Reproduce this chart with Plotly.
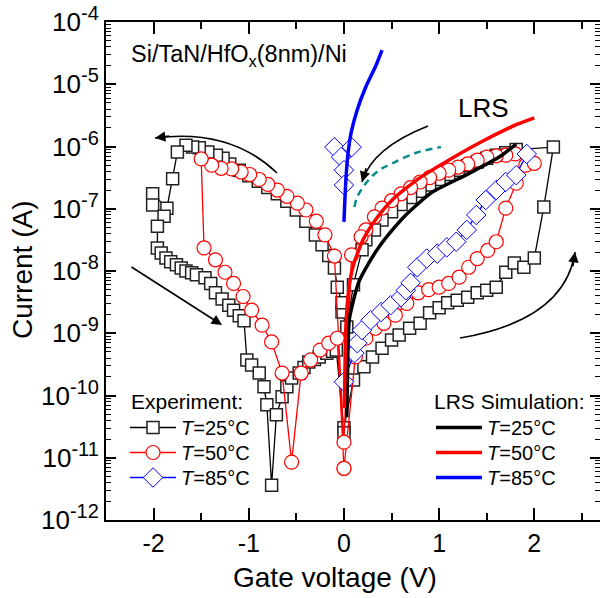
import numpy as np
import plotly.graph_objects as go

# ---------------- data : gate voltage (V) and log10(current / A) ----------------
# T = 25 C experiment (squares), sweep order 0 -> +2.2 -> 0 -> -2 -> 0
e25_up_V = [0.0, 0.1, 0.21, 0.3, 0.4, 0.5, 0.58, 0.69, 0.8, 0.9, 1.0, 1.09, 1.19, 1.3, 1.4, 1.5, 1.6, 1.7, 1.79, 1.89, 2.0, 2.1, 2.2]
e25_up_L = [-10.52, -9.75, -9.54, -9.38, -9.24, -9.11, -9.03, -8.92, -8.84, -8.67, -8.59, -8.51, -8.47, -8.42, -8.35, -8.31, -8.26, -8.02, -7.87, -7.94, -7.79, -6.97, -6.01]
e25_lrs_V = [1.81, 1.7, 1.6, 1.5, 1.4, 1.3, 1.2, 1.1, 1.0, 0.9, 0.8, 0.7, 0.6, 0.5, 0.4, 0.32, 0.23, 0.19, 0.1, 0.03]
e25_lrs_L = [-6.05, -6.1, -6.14, -6.19, -6.25, -6.31, -6.38, -6.45, -6.53, -6.62, -6.72, -6.82, -6.93, -7.05, -7.18, -7.34, -7.5, -7.66, -8.22, -8.9]
e25_negup_V = [-0.02, -0.02, -0.07, -0.1, -0.16, -0.23, -0.3, -0.4, -0.5, -0.6, -0.7, -0.8, -0.9, -1.0, -1.1, -1.2, -1.27, -1.34, -1.43, -1.52, -1.59, -1.66, -1.75]
e25_negup_L = [-8.66, -8.51, -8.26, -7.95, -7.75, -7.58, -7.42, -7.2, -7.02, -6.88, -6.76, -6.66, -6.56, -6.47, -6.38, -6.28, -6.19, -6.14, -6.09, -6.02, -6.01, -5.98, -6.09]
e25_end_V = [-1.8, -1.86, -2.01, -2.01, -1.89, -1.96, -1.96]
e25_end_L = [-6.52, -6.99, -6.76, -6.94, -7.12, -7.28, -7.63]
e25_neglo_V = [-1.92, -1.87, -1.82, -1.76, -1.71, -1.66, -1.6, -1.55, -1.46, -1.4, -1.35, -1.28, -1.21, -1.16, -1.1, -1.05, -1.02, -0.97, -0.89, -0.84,
               -0.81, -0.76, -0.71, -0.65, -0.6, -0.55, -0.47, -0.42, -0.37, -0.31, -0.26, -0.18, -0.12, -0.08, 0.0]
e25_neglo_L = [-7.71, -7.79, -7.85, -7.9, -7.95, -8.0, -8.03, -8.06, -8.11, -8.2, -8.35, -8.45, -8.55, -8.63, -8.72, -8.8, -9.43, -9.51, -9.64, -9.86,
               -10.15, -11.44, -10.31, -10.02, -9.86, -9.72, -9.64, -9.55, -9.46, -9.42, -9.38, -9.32, -9.29, -9.27, -10.6]

# T = 50 C experiment (circles)
e50_up_V = [0.0, 0.12, 0.23, 0.33, 0.42, 0.54, 0.66, 0.78, 0.89, 1.0, 1.1, 1.21, 1.31, 1.4, 1.51, 1.6, 1.7, 1.81, 1.91, 2.0]
e50_up_L = [-11.17, -9.38, -9.08, -8.92, -8.84, -8.71, -8.52, -8.35, -8.3, -8.26, -8.2, -8.1, -7.94, -7.8, -7.67, -7.53, -6.99, -6.59, -6.3, -6.27]
e50_lrs_V = [1.8, 1.7, 1.6, 1.5, 1.4, 1.3, 1.2, 1.1, 1.0, 0.9, 0.8, 0.7, 0.6, 0.5, 0.4, 0.32, 0.23, 0.18, 0.08, 0.0]
e50_lrs_L = [-6.12, -6.14, -6.15, -6.17, -6.22, -6.28, -6.33, -6.38, -6.43, -6.5, -6.57, -6.66, -6.76, -6.87, -6.99, -7.13, -7.34, -7.45, -7.74, -10.75]
e50_negup_V = [-0.1, -0.2, -0.29, -0.4, -0.49, -0.6, -0.7, -0.8, -0.89, -0.99, -1.08, -1.18, -1.29, -1.39, -1.5]
e50_negup_L = [-7.76, -7.42, -7.2, -7.02, -6.91, -6.8, -6.7, -6.61, -6.53, -6.45, -6.41, -6.36, -6.35, -6.3, -6.2]
e50_neglo_V = [-1.47, -1.35, -1.25, -1.16, -1.06, -0.97, -0.86, -0.76, -0.65, -0.55, -0.45, -0.35, -0.25, -0.16, -0.07, 0.0]
e50_neglo_L = [-7.63, -7.82, -8.02, -8.2, -8.41, -8.63, -8.87, -9.14, -9.64, -11.07, -9.64, -9.43, -9.27, -9.16, -9.08, -11.17]

# T = 85 C experiment (diamonds)
e85_lrs_V = [-0.1, -0.03, 0.08, 0.0, 0.0]
e85_lrs_L = [-6.01, -6.17, -6.01, -6.38, -6.62]
e85_up_V = [0.0, 0.11, 0.14, 0.19, 0.28, 0.39, 0.49, 0.6, 0.65, 0.7, 0.77, 0.87, 0.98, 1.08, 1.18, 1.29, 1.39, 1.49, 1.6, 1.7, 1.81, 1.92]
e85_up_L = [-9.78, -9.32, -9.16, -8.95, -8.79, -8.66, -8.55, -8.42, -8.31, -8.19, -7.94, -7.8, -7.72, -7.62, -7.53, -7.34, -7.1, -6.86, -6.7, -6.57, -6.46, -6.12]

# LRS simulations
sim25_V = [0.03, 0.04, 0.055, 0.1, 0.16, 0.25, 0.37, 0.52, 0.65, 0.92, 1.28, 1.63, 1.81]
sim25_L = [-10.35, -9.4, -8.79, -8.47, -8.16, -7.9, -7.61, -7.32, -7.1, -6.74, -6.46, -6.17, -5.96]
sim50_V = [0.005, 0.01, 0.02, 0.05, 0.1, 0.2, 0.33, 0.52, 0.8, 1.1, 1.45, 1.81, 2.0]
sim50_L = [-10.2, -9.6, -8.9, -8.3, -7.9, -7.5, -7.18, -6.84, -6.5, -6.22, -5.92, -5.65, -5.54]
sim85_V = [0.0, 0.02, 0.04, 0.075, 0.14, 0.23, 0.33, 0.4]
sim85_L = [-7.21, -6.54, -6.15, -5.78, -5.41, -5.04, -4.72, -4.45]

# dashed guide curve
guide_V = [0.11, 0.14, 0.23, 0.37, 0.51, 0.76, 1.02]
guide_L = [-6.97, -6.81, -6.59, -6.38, -6.27, -6.1, -6.01]

y_tick_exp = [-12, -11, -10, -9, -8, -7, -6, -5, -4]
x_tick_vals = [-2, -1, 0, 1, 2]
x_tick_text = ['-2', '-1', '0', '1', '2']
temps = ['25', '50', '85']


def cat(*parts):
    out = []
    for p in parts:
        out += list(p)
    return out


def amp(logs):
    return [None if v is None else 10.0 ** v for v in logs]


FONT = 'Liberation Sans, Arial, Helvetica, sans-serif'
W, H = 600, 598
ML, MR, MT, MB = 106, 0, 22, 78
PW, PH = W - ML - MR, H - MT - MB


def pxp(x):
    return (x - ML) / PW


def pyp(y):
    return (H - MB - y) / PH


ROWS = [428, 453, 478]          # legend row centres (px)
EXP_X, SIM_X = 125, 431          # legend symbol left edges (px)
ROW_OFF = 20                     # item centre below legend top (px)

fig = go.Figure()

exp_styles = [
    dict(line=dict(color='black', width=1.3),
         marker=dict(symbol='square', size=12, color='white', line=dict(color='#222222', width=1.5))),
    dict(line=dict(color='#ff0000', width=1.3),
         marker=dict(symbol='circle', size=14, color='white', line=dict(color='#ff0000', width=1.2))),
    dict(line=dict(color='#0000ff', width=1.3),
         marker=dict(symbol='diamond', size=15, color='white', line=dict(color='#0000ff', width=1.0))),
]
exp_x = [cat(e25_up_V, e25_lrs_V, e25_negup_V, e25_end_V, e25_neglo_V),
         cat(e50_up_V, e50_lrs_V, e50_negup_V, e50_neglo_V),
         cat(e85_lrs_V, [None], e85_up_V)]
exp_y = [amp(cat(e25_up_L, e25_lrs_L, e25_negup_L, e25_end_L, e25_neglo_L)),
         amp(cat(e50_up_L, e50_lrs_L, e50_negup_L, e50_neglo_L)),
         amp(cat(e85_lrs_L, [None], e85_up_L))]
exp_leg = ['legend', 'legend3', 'legend4']
sim_leg = ['legend2', 'legend5', 'legend6']

for i in range(3):
    fig.add_trace(go.Scatter(x=exp_x[i], y=exp_y[i], mode='lines+markers',
                             name='<i>T</i>=%s°C' % temps[i], legend=exp_leg[i], **exp_styles[i]))

fig.add_trace(go.Scatter(
    x=guide_V, y=amp(guide_L), mode='lines', showlegend=False,
    line=dict(color='#0b8a8a', width=2.5, dash='7px,5px', shape='spline')))

sims = [(sim25_V, sim25_L, 'black'), (sim50_V, sim50_L, '#ff0000'), (sim85_V, sim85_L, '#0000ff')]
for i, (v, l, c) in enumerate(sims):
    fig.add_trace(go.Scatter(x=v, y=amp(l), mode='lines', name='<i>T</i>=%s°C' % temps[i],
                             legend=sim_leg[i],
                             line=dict(color=c, width=3.5, shape='spline', smoothing=0.6)))

minor_y = [m * 10.0 ** e for e in range(-12, -4) for m in range(2, 10)]


def leg(x, row):
    return dict(x=pxp(x), y=pyp(ROWS[row] - ROW_OFF), xanchor='left', yanchor='top',
                font=dict(size=20), bgcolor='rgba(0,0,0,0)', itemwidth=46,
                tracegroupgap=0, borderwidth=0)


fig.update_layout(
    width=W, height=H, margin=dict(l=ML, r=MR, t=MT, b=MB, autoexpand=False),
    plot_bgcolor='white', paper_bgcolor='white',
    font=dict(family=FONT, color='black', size=20),
    xaxis=dict(range=[-2.5, 2.69], tickvals=x_tick_vals, ticktext=x_tick_text, automargin=False,
               ticks='inside', ticklen=12, tickwidth=1.5, tickcolor='black',
               minor=dict(dtick=0.5, tick0=0, ticks='inside', ticklen=7, tickwidth=1.5, tickcolor='black'),
               showline=True, linewidth=2, linecolor='black', mirror='allticks',
               showgrid=False, zeroline=False, tickfont=dict(size=25)),
    yaxis=dict(type='log', range=[-12, -4], automargin=False,
               tickvals=[10.0 ** e for e in y_tick_exp],
               ticktext=['10<sup><span style="font-size:20px">%d</span></sup>' % e for e in y_tick_exp],
               ticks='inside', ticklen=10, tickwidth=1.5, tickcolor='black',
               minor=dict(tickvals=minor_y, ticks='inside', ticklen=5, tickwidth=1.2, tickcolor='black'),
               showline=True, linewidth=2, linecolor='black', mirror='allticks',
               showgrid=False, zeroline=False, tickfont=dict(size=26)),
    legend=leg(EXP_X, 0), legend3=leg(EXP_X, 1), legend4=leg(EXP_X, 2),
    legend2=leg(SIM_X, 0), legend5=leg(SIM_X, 1), legend6=leg(SIM_X, 2),
)

ann = []


def label(text, x, y, size, anchor='left', angle=0):
    ann.append(dict(text=text, x=pxp(x), y=pyp(y), xref='paper', yref='paper', textangle=angle,
                    xanchor=anchor, yanchor='middle', showarrow=False, font=dict(size=size)))


label('Si/TaN/HfO<sub>x</sub>(8nm)/Ni', 129, 55, 23.5)
label('LRS', 456, 108, 26)
label('Experiment:', 129, 402, 21)
label('LRS Simulation:', 432, 402, 21)
label('Gate voltage (V)', 335, 577, 28, anchor='center')
label('Current (A)', 22, 270, 28, anchor='center', angle=-90)


def head(hx, hy, dx, dy, L=16):
    n = (dx * dx + dy * dy) ** 0.5
    return dict(text='', x=pxp(hx), y=pyp(hy), xref='paper', yref='paper',
                ax=-dx / n * L, ay=-dy / n * L, showarrow=True, arrowhead=2,
                arrowsize=1.3, arrowwidth=1.6, arrowcolor='black')


shapes = []


def curve(p0, c, p1):
    shapes.append(dict(type='path', xref='paper', yref='paper',
                       path='M %f,%f Q %f,%f %f,%f' % (pxp(p0[0]), pyp(p0[1]), pxp(c[0]), pyp(c[1]),
                                                       pxp(p1[0]), pyp(p1[1])),
                       line=dict(color='black', width=1.6)))
    ann.append(head(p1[0], p1[1], p1[0] - c[0], p1[1] - c[1]))


curve((277, 173), (230, 128), (155, 138))
curve((428, 126), (372, 148), (362, 182))
curve((460, 338), (565, 320), (575, 252))
ann.append(dict(text='', x=pxp(222), y=pyp(325), xref='paper', yref='paper',
                ax=-92, ay=-59, showarrow=True, arrowhead=2, arrowsize=1.3,
                arrowwidth=1.6, arrowcolor='black'))

fig.update_layout(annotations=ann, shapes=shapes)
fig.write_html('out.html', config={'displayModeBar': False},
               post_script="document.body.style.margin='0px';document.body.style.padding='0px';")
